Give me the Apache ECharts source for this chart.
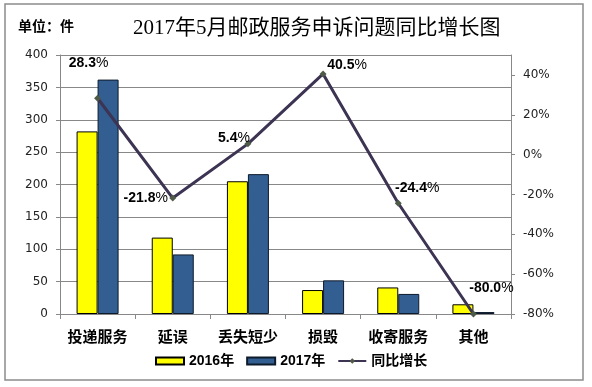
<!DOCTYPE html>
<html>
<head>
<meta charset="utf-8">
<script src="https://cdn.jsdelivr.net/npm/echarts@6/dist/echarts.min.js"></script>
<style>
html,body{margin:0;padding:0;background:#fff;}
#chart{width:592px;height:387px;}
</style>
</head>
<body>
<div id="chart"></div>
<script>
// ---- data ----
var categories = ['投递服务', '延误', '丢失短少', '损毁', '收寄服务', '其他'];
var values2016 = [282, 118, 205, 37, 41, 15];
var values2017 = [362, 92, 216, 52, 31, 3];
var growth = [28.3, -21.8, 5.4, 40.5, -24.4, -80.0];
var leftTicks = [0, 400, 50];      // min, max, interval
var rightTicks = [-80, 50, 20];    // min, max, interval (%)
var labelOffsets = [[-9, -20], [-27, 16], [-14, 10], [24, 7], [19, 0], [18, -10]];

var chart = echarts.init(document.getElementById('chart'), null, {renderer: 'canvas'});
var sans = '"Liberation Sans", "Noto Sans CJK SC", sans-serif';
var cjk = '"Noto Sans CJK SC", sans-serif';

var lineData = growth.map(function (v, i) {
  return {
    value: v,
    label: {offset: labelOffsets[i]}
  };
});

var option = {
  animation: false,
  backgroundColor: '#fff',
  title: {
    text: '2017年5月邮政服务申诉问题同比增长图',
    left: 133,
    top: 18,
    padding: 0,
    textStyle: {
      fontFamily: '"Liberation Serif", "DejaVu Serif", "Noto Sans CJK SC", serif',
      fontSize: 21,
      fontWeight: 'normal',
      color: '#000'
    }
  },
  graphic: [
    {
      type: 'rect',
      shape: {x: 5, y: 4, width: 578, height: 376},
      style: {fill: 'none', stroke: '#8c8c8c', lineWidth: 1.5},
      silent: true
    },
    {
      type: 'text',
      left: 18,
      top: 19,
      style: {text: '单位：件', font: 'bold 14px ' + cjk, fill: '#000'}
    }
  ],
  legend: {
    left: 155,
    top: 354,
    padding: 0,
    itemWidth: 28,
    itemHeight: 7,
    itemGap: 12,
    textStyle: {fontFamily: sans, fontWeight: 'bold', fontSize: 14, color: '#000'},
    data: [
      {name: '2016年', icon: 'rect'},
      {name: '2017年', icon: 'rect'},
      {name: '同比增长'}
    ]
  },
  grid: {left: 60, right: 81, top: 55, bottom: 73},
  xAxis: {
    type: 'category',
    data: categories,
    axisLine: {lineStyle: {color: '#888', width: 1}},
    axisTick: {show: true, length: 5, lineStyle: {color: '#888'}},
    axisLabel: {
      interval: 0,
      margin: 15,
      fontFamily: cjk,
      fontWeight: 'bold',
      fontSize: 15,
      color: '#000'
    }
  },
  yAxis: [
    {
      type: 'value',
      min: leftTicks[0],
      max: leftTicks[1],
      interval: leftTicks[2],
      axisLine: {show: true, lineStyle: {color: '#888'}},
      axisTick: {show: true, length: 4, lineStyle: {color: '#888'}},
      splitLine: {lineStyle: {color: '#888', width: 1}},
      axisLabel: {margin: 12, fontFamily: '"DejaVu Sans", sans-serif', fontSize: 12, color: '#222'}
    },
    {
      type: 'value',
      min: rightTicks[0],
      max: rightTicks[1],
      interval: rightTicks[2],
      position: 'right',
      axisLine: {show: true, lineStyle: {color: '#888'}},
      axisTick: {show: true, length: 4, lineStyle: {color: '#888'}},
      splitLine: {show: false},
      axisLabel: {
        margin: 12,
        showMaxLabel: false,
        fontFamily: '"DejaVu Sans", sans-serif',
        fontSize: 12,
        color: '#222',
        formatter: function (v) { return v + '%'; }
      }
    }
  ],
  series: [
    {
      name: '2016年',
      type: 'bar',
      data: values2016,
      barWidth: 21,
      barGap: '0%',
      itemStyle: {color: '#ffff00', borderColor: '#000', borderWidth: 1}
    },
    {
      name: '2017年',
      type: 'bar',
      data: values2017,
      barWidth: 21,
      barGap: '0%',
      itemStyle: {color: '#335e91', borderColor: '#0d1a2a', borderWidth: 1}
    },
    {
      name: '同比增长',
      type: 'line',
      yAxisIndex: 1,
      data: lineData,
      symbol: 'diamond',
      symbolSize: 7,
      lineStyle: {color: '#3d3352', width: 3},
      itemStyle: {color: '#4e5b48', borderWidth: 0},
      label: {
        show: true,
        position: 'top',
        formatter: function (p) { return '{b|' + p.value.toFixed(1) + '}{n|%}'; },
        rich: {
          b: {fontFamily: sans, fontWeight: 'bold', fontSize: 14, color: '#000'},
          n: {fontFamily: sans, fontWeight: 'normal', fontSize: 14, color: '#000'}
        }
      },
      z: 5
    }
  ]
};
chart.setOption(option);
</script>
</body>
</html>
